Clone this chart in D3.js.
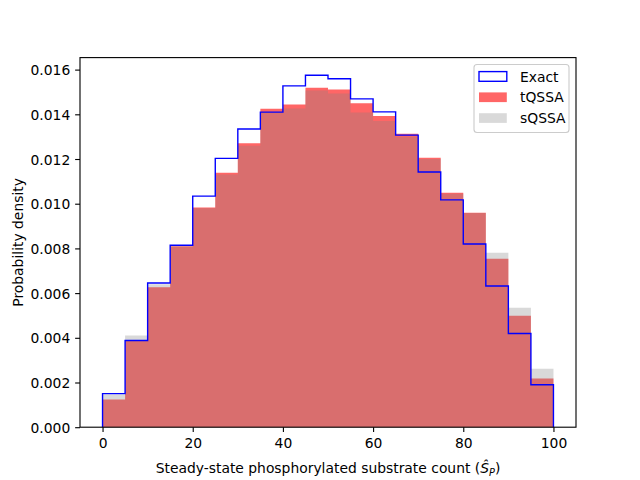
<!DOCTYPE html>
<html>
<head>
<meta charset="utf-8">
<script src="https://cdn.jsdelivr.net/npm/d3@7"></script>
<style>
  html, body { margin: 0; padding: 0; background: #fff; }
  svg { display: block; font-family: "DejaVu Sans", sans-serif; }
</style>
</head>
<body>
<div id="chart"></div>
<script>
// Bin edges (left edges of 20 bins of width 5, 0..100)
const binEdges = [0, 5, 10, 15, 20, 25, 30, 35, 40, 45, 50, 55, 60, 65, 70, 75, 80, 85, 90, 95, 100];
const exactDensity = [0.00150, 0.00388, 0.00645, 0.00814, 0.01034, 0.01203, 0.01334, 0.01410, 0.01527, 0.01575,
                      0.01559, 0.01469, 0.01411, 0.01307, 0.01142, 0.01017, 0.00820, 0.00632, 0.00419, 0.00190];
const tqssaDensity = [0.00124, 0.00386, 0.00626, 0.00810, 0.00983, 0.01139, 0.01271, 0.01425, 0.01444, 0.01519,
                      0.01511, 0.01450, 0.01393, 0.01313, 0.01206, 0.01049, 0.00960, 0.00754, 0.00499, 0.00218];
const sqssaDensity = [0.00146, 0.00410, 0.00640, 0.00810, 0.00980, 0.01131, 0.01259, 0.01410, 0.01426, 0.01507,
                      0.01493, 0.01408, 0.01370, 0.01300, 0.01200, 0.01045, 0.00958, 0.00781, 0.00535, 0.00262];
const xTicks = [0, 20, 40, 60, 80, 100];
const yTicks = [0, 0.002, 0.004, 0.006, 0.008, 0.010, 0.012, 0.014, 0.016];
const legendLabels = ["Exact", "tQSSA", "sQSSA"];

const W = 640, H = 480;
const m = { left: 80, right: 576, top: 57.6, bottom: 427.2 };
const fs = 13.89;

const svg = d3.select("#chart").append("svg").attr("width", W).attr("height", H);

const yMax = d3.max([...exactDensity, ...tqssaDensity, ...sqssaDensity]) * 1.05;
const x = d3.scaleLinear().domain([-5, 105]).range([m.left, m.right]);
const y = d3.scaleLinear().domain([0, yMax]).range([m.bottom, m.top]);

function stepPoints(vals) {
  const pts = vals.map((v, i) => ({ x: binEdges[i], y: v }));
  pts.push({ x: binEdges[binEdges.length - 1], y: vals[vals.length - 1] });
  return pts;
}

const area = d3.area().x(d => x(d.x)).y0(y(0)).y1(d => y(d.y)).curve(d3.curveStepAfter);
const line = d3.line().x(d => x(d.x)).y(d => y(d.y)).curve(d3.curveStepAfter);

const plot = svg.append("g");

// tQSSA
plot.append("path").attr("d", area(stepPoints(tqssaDensity)))
  .attr("fill", "#ff0000").attr("fill-opacity", 0.6);
// sQSSA
plot.append("path").attr("d", area(stepPoints(sqssaDensity)))
  .attr("fill", "#808080").attr("fill-opacity", 0.3);
// Exact step outline
const exPts = [{ x: binEdges[0], y: 0 }, ...stepPoints(exactDensity), { x: binEdges[binEdges.length - 1], y: 0 }];
plot.append("path").attr("d", line(exPts))
  .attr("fill", "none").attr("stroke", "#0000ff").attr("stroke-width", 1.39);

// Axes
const xAxis = d3.axisBottom(x).tickValues(xTicks).tickFormat(d3.format("d")).tickSize(4.86).tickPadding(4.86);
const yAxis = d3.axisLeft(y).tickValues(yTicks).tickFormat(d3.format(".3f")).tickSize(4.86).tickPadding(4.86);

const gx = svg.append("g").attr("transform", `translate(0,${m.bottom})`).call(xAxis);
const gy = svg.append("g").attr("transform", `translate(${m.left},0)`).call(yAxis);
[gx, gy].forEach(g => {
  g.select(".domain").remove();
  g.selectAll(".tick line").attr("stroke", "#000").attr("stroke-width", 1.11);
  g.selectAll(".tick text").attr("fill", "#000").attr("font-size", fs).attr("font-family", "DejaVu Sans");
});
gx.selectAll(".tick text").attr("dy", null).attr("y", 20.5);
gy.selectAll(".tick text").attr("dy", null).attr("y", 5.06);

// Spines
svg.append("rect").attr("x", m.left).attr("y", m.top)
  .attr("width", m.right - m.left).attr("height", m.bottom - m.top)
  .attr("fill", "none").attr("stroke", "#000").attr("stroke-width", 1.11);

// Axis labels
const xl = svg.append("text").attr("x", (m.left + m.right) / 2).attr("y", 473)
  .attr("text-anchor", "middle").attr("font-size", fs).attr("fill", "#000");
xl.append("tspan").text("Steady-state phosphorylated substrate count (");
xl.append("tspan").attr("font-style", "italic").text("\u015C");
xl.append("tspan").attr("font-style", "italic").attr("font-size", fs * 0.7).attr("dy", 2.8).text("P");
xl.append("tspan").attr("dy", -2.8).text(")");

svg.append("text").attr("transform", `translate(23,${(m.top + m.bottom) / 2}) rotate(-90)`)
  .attr("text-anchor", "middle").attr("font-size", fs).attr("fill", "#000")
  .text("Probability density");

// Legend
const lg = svg.append("g");
lg.append("rect").attr("x", 474).attr("y", 64.5).attr("width", 95).attr("height", 68)
  .attr("rx", 3).attr("fill", "#fff").attr("fill-opacity", 0.8)
  .attr("stroke", "#cccccc").attr("stroke-width", 1.11);
const legendStyles = [
  { fill: "none", stroke: "#0000ff", op: 1 },
  { fill: "#ff0000", stroke: "none", op: 0.6 },
  { fill: "#808080", stroke: "none", op: 0.3 }
];
legendLabels.forEach((lab, i) => {
  const cy = 76.5 + i * 20.8;
  const st = legendStyles[i];
  lg.append("rect").attr("x", 479).attr("y", cy - 4.9).attr("width", 27.8).attr("height", 9.7)
    .attr("fill", st.fill).attr("fill-opacity", st.op)
    .attr("stroke", st.stroke).attr("stroke-width", 1.39);
  lg.append("text").attr("x", 520).attr("y", cy + 5).attr("font-size", fs).attr("fill", "#000").text(lab);
});
</script>
</body>
</html>
